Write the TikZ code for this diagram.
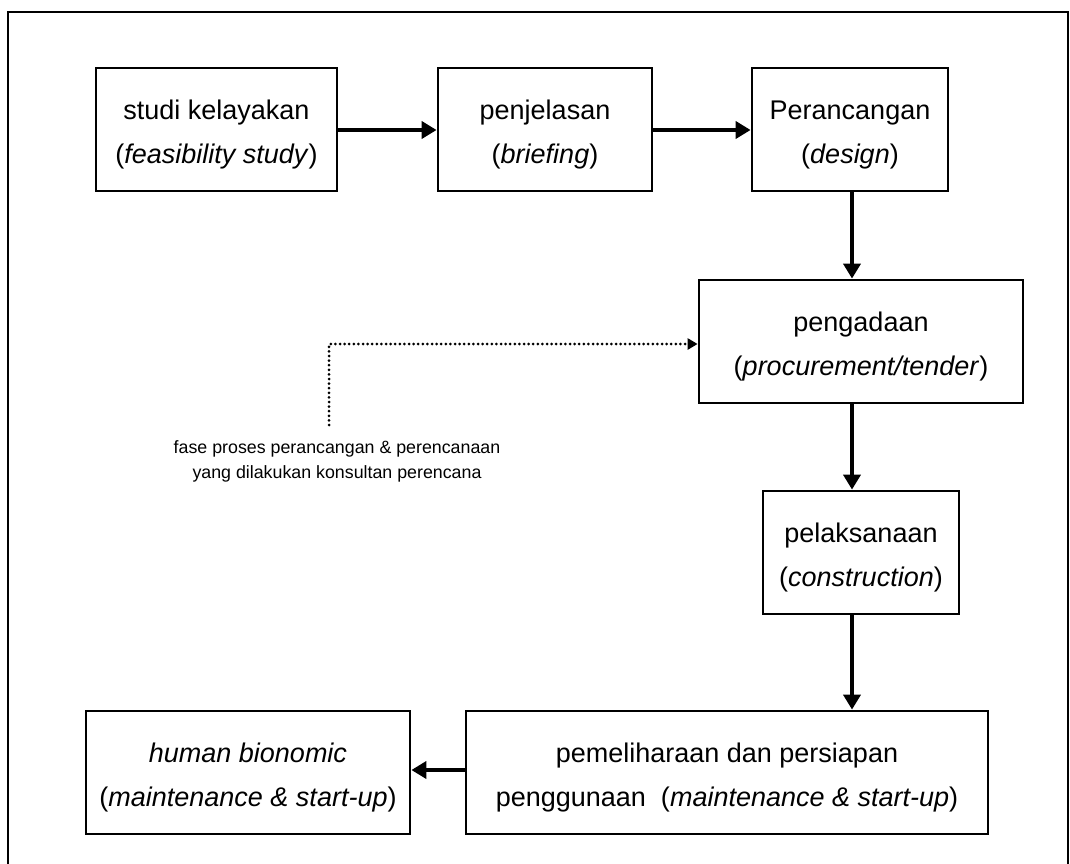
\documentclass[tikz,border=0pt]{standalone}
\usepackage{fontspec}
\setmainfont{Liberation Sans}
\usetikzlibrary{arrows.meta}
\begin{document}
\begin{tikzpicture}[x=1pt,y=-1pt,
  box/.style={draw,line width=2.8pt,inner sep=0pt,minimum height=123pt},
  boxtext/.style={inner sep=0pt,align=center,yshift=-5.5pt,font=\fontsize{27}{44}\selectfont},
  flow/.style={line width=4.6pt,-{Triangle[length=15pt,width=17pt]}},
  note/.style={font=\fontsize{17.8}{25}\selectfont,align=center}]
\useasboundingbox (0,0) rectangle (1070,864);
\draw[line width=2.6pt] (8,864) -- (8,12) -- (1068,12) -- (1068,864);
\node[box,minimum width=241pt,label={[boxtext]center:studi kelayakan\\(\textit{feasibility study})}] (a) at (216.5,129.5) {};
\node[box,minimum width=214pt,label={[boxtext]center:penjelasan\\(\textit{briefing})}] (b) at (545,129.5) {};
\node[box,minimum width=196pt,label={[boxtext]center:Perancangan\\(\textit{design})}] (c) at (850,129.5) {};
\node[box,minimum width=324pt,label={[boxtext]center:pengadaan\\(\textit{procurement/tender})}] (d) at (861,341.5) {};
\node[box,minimum width=196pt,label={[boxtext]center:pelaksanaan\\(\textit{construction})}] (e) at (861,552.5) {};
\node[box,minimum width=522pt,label={[boxtext]center:pemeliharaan dan persiapan\\penggunaan\ \ (\textit{maintenance \& start-up})}] (f) at (727,772.5) {};
\node[box,minimum width=324pt,label={[boxtext]center:\textit{human bionomic}\\(\textit{maintenance \& start-up})}] (g) at (248,772.5) {};
\node[note] (n) at (337,461) {fase proses perancangan \& perencanaan\\yang dilakukan konsultan perencana};
\coordinate (p) at (329,425);
\coordinate (q) at (329,344);
\coordinate (r) at (d.west |- q);
\draw[flow] (a.east |- 0,130) -- (b.west |- 0,130);
\draw[flow] (b.east |- 0,130) -- (c.west |- 0,130);
\draw[flow] (c.south -| 852,0) -- (d.north -| 852,0);
\draw[flow] (d.south -| 852,0) -- (e.north -| 852,0);
\draw[flow] (e.south -| 852,0) -- (f.north -| 852,0);
\draw[flow] (f.west |- 0,770) -- (g.east |- 0,770);
\draw[line width=3pt,line cap=round,dash pattern=on 0pt off 4.6pt,-{Triangle[length=10pt,width=11pt]}] (p) -- (q) -- (r);
\end{tikzpicture}
\end{document}
